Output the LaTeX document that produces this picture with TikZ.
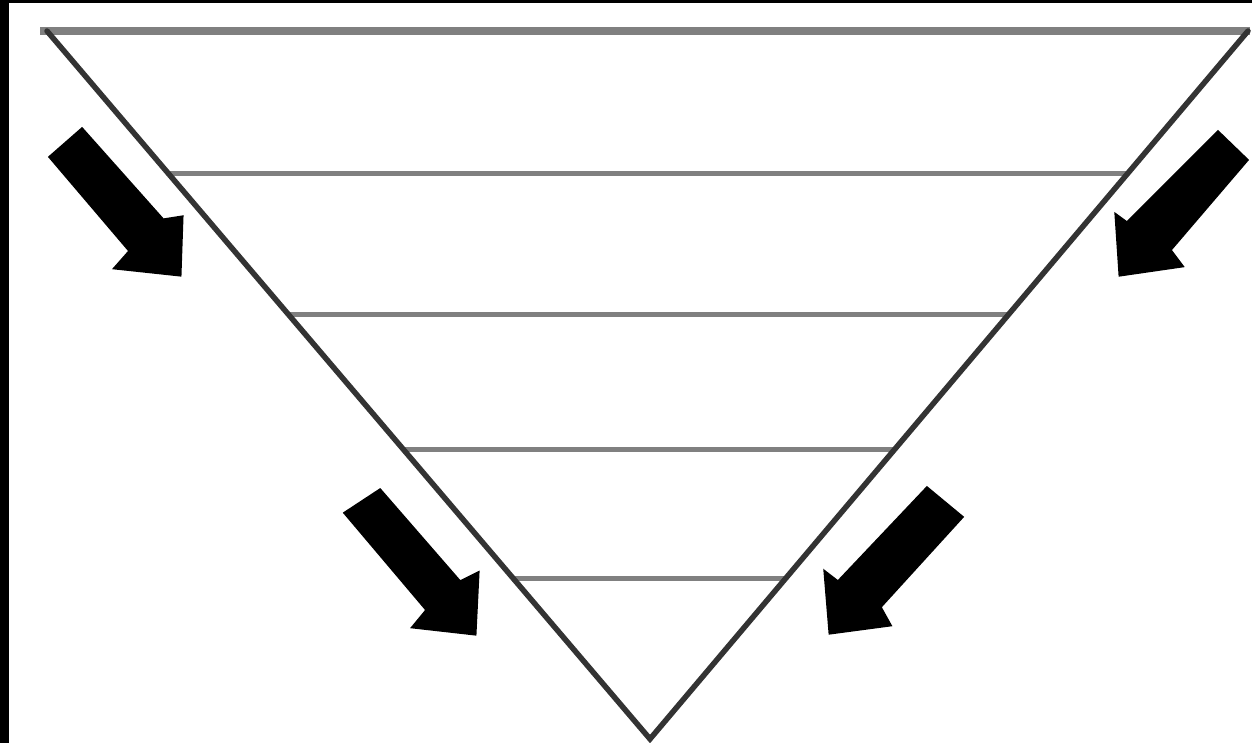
\documentclass[tikz,border=0pt]{standalone}
\begin{document}
\begin{tikzpicture}[x=1pt,y=-1pt,
  diag/.style={draw=black!80, line width=5.5pt, line cap=round},
  level/.style={draw=black!50, line width=5pt},
  toplevel/.style={draw=black!50, line width=8pt},
  bigarrow/.style={fill=black, draw=black, line width=3pt, line join=miter}]
\useasboundingbox (0,0) rectangle (1252,743);
\fill[white] (0,0) rectangle (1252,743);
\fill[black] (0,0) rectangle (9,743);
\fill[black] (0,0) rectangle (1252,3);
% funnel
\coordinate (TL) at (47,31);
\coordinate (TR) at (1248,31);
\coordinate (A) at (650,739);
\draw[toplevel] (40,31) -- (1250,31);
\draw[level] (168,174) -- (1127,174);
\draw[level] (287,314) -- (1009,314);
\draw[level] (402,449) -- (896,449);
\draw[level] (512,578) -- (786,578);
\draw[diag, line join=miter] (TL) -- (A) -- (TR);
% arrows
\draw[bigarrow] (82,129) -- (163,220) -- (182,217) -- (180,275) -- (115,268) -- (130,251) -- (50,157) -- cycle;
\draw[bigarrow] (1218,132) -- (1247,160) -- (1170,250) -- (1182,266) -- (1120,275) -- (1116,215) -- (1127,223) -- cycle;
\draw[bigarrow] (380,490) -- (460,582) -- (478,573) -- (475,634) -- (413,627) -- (427,610) -- (345,513) -- cycle;
\draw[bigarrow] (927,488) -- (962,517) -- (880,607) -- (890,625) -- (830,633) -- (825,572) -- (838,582) -- cycle;
\end{tikzpicture}
\end{document}
